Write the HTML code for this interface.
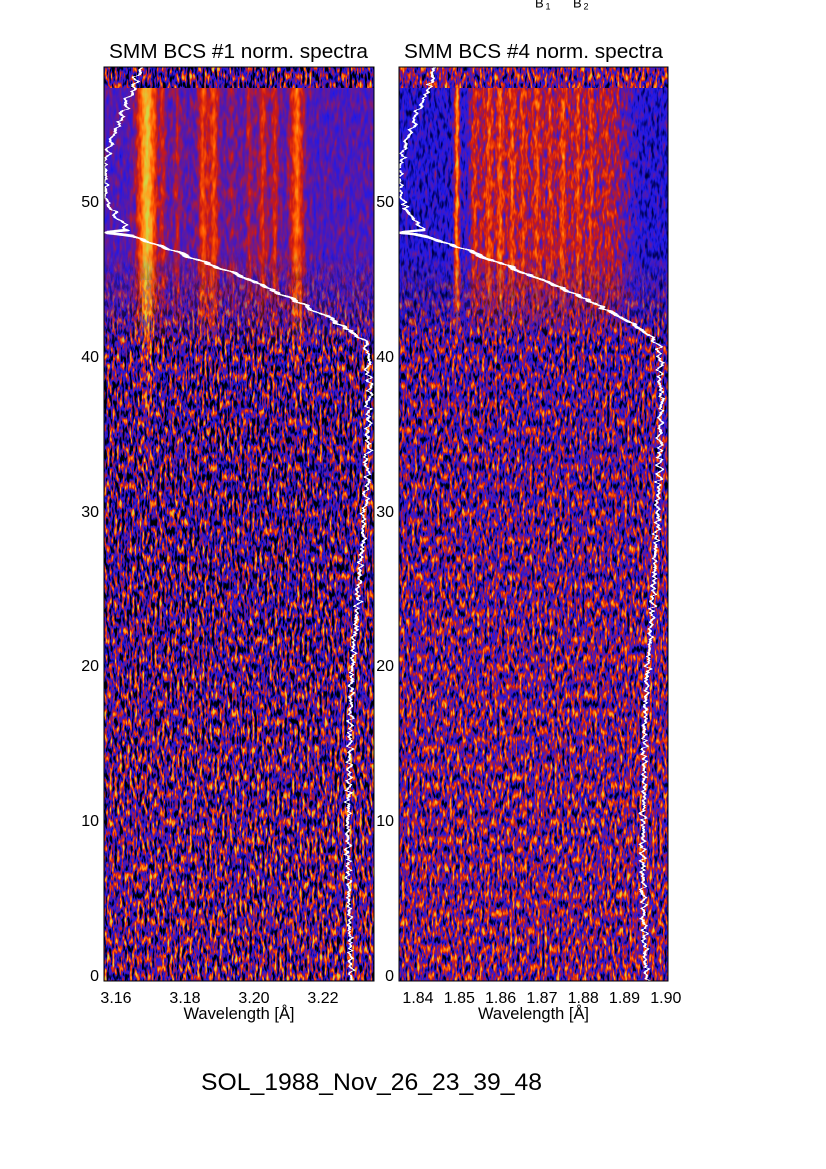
<!DOCTYPE html>
<html><head><meta charset="utf-8">
<style>
html,body{margin:0;padding:0;background:#fff;width:826px;height:1169px;overflow:hidden}
svg{display:block}
text{font-family:"Liberation Sans",Arial,sans-serif;fill:#000}
</style></head><body>
<svg width="826" height="1169" viewBox="0 0 826 1169" xmlns="http://www.w3.org/2000/svg">
<defs>
  <clipPath id="cL"><rect x="104" y="67" width="270" height="914"/></clipPath>
  <clipPath id="cR"><rect x="399" y="67" width="269" height="914"/></clipPath>

  <filter id="nL" filterUnits="userSpaceOnUse" x="104" y="67" width="270" height="914" color-interpolation-filters="sRGB">
    <feTurbulence type="fractalNoise" baseFrequency="0.4 0.11" numOctaves="2" seed="3" result="t"/>
    <feColorMatrix in="t" type="matrix" values="1 0 0 0 0  1 0 0 0 0  1 0 0 0 0  0 0 0 0 1" result="g"/>
    <feComposite in="SourceGraphic" in2="g" operator="arithmetic" k1="0" k2="1" k3="2.05" k4="-1.025" result="s"/>
    <feComponentTransfer in="s">
      <feFuncR type="table" tableValues="0 0 0.12 0.37 0.8 1 1 0.82"/>
      <feFuncG type="table" tableValues="0 0 0.1 0.1 0.1 0.33 0.63 0.84"/>
      <feFuncB type="table" tableValues="0 0.35 0.92 0.63 0.08 0 0.12 0.27"/>
    </feComponentTransfer>
  </filter>
  <filter id="nR" filterUnits="userSpaceOnUse" x="399" y="67" width="269" height="914" color-interpolation-filters="sRGB">
    <feTurbulence type="fractalNoise" baseFrequency="0.4 0.11" numOctaves="2" seed="11" result="t"/>
    <feColorMatrix in="t" type="matrix" values="1 0 0 0 0  1 0 0 0 0  1 0 0 0 0  0 0 0 0 1" result="g"/>
    <feComposite in="SourceGraphic" in2="g" operator="arithmetic" k1="0" k2="1" k3="1.65" k4="-0.825" result="s"/>
    <feComponentTransfer in="s">
      <feFuncR type="table" tableValues="0 0 0.12 0.37 0.8 1 1 0.82"/>
      <feFuncG type="table" tableValues="0 0 0.1 0.1 0.1 0.33 0.63 0.84"/>
      <feFuncB type="table" tableValues="0 0.35 0.92 0.63 0.08 0 0.12 0.27"/>
    </feComponentTransfer>
  </filter>
  <filter id="uL" filterUnits="userSpaceOnUse" x="104" y="86" width="270" height="266" color-interpolation-filters="sRGB">
    <feTurbulence type="fractalNoise" baseFrequency="0.3 0.08" numOctaves="2" seed="5" result="t"/>
    <feColorMatrix in="t" type="matrix" values="1 0 0 0 0  1 0 0 0 0  1 0 0 0 0  0 0 0 0 1" result="g"/>
    <feComposite in="SourceGraphic" in2="g" operator="arithmetic" k1="0" k2="1" k3="0.35" k4="-0.175" result="s"/>
    <feComponentTransfer in="s">
      <feFuncR type="table" tableValues="0 0 0.12 0.37 0.8 1 1 0.82"/>
      <feFuncG type="table" tableValues="0 0 0.1 0.1 0.1 0.33 0.63 0.84"/>
      <feFuncB type="table" tableValues="0 0.35 0.92 0.63 0.08 0 0.12 0.27"/>
    </feComponentTransfer>
  </filter>
  <filter id="uR" filterUnits="userSpaceOnUse" x="399" y="86" width="269" height="266" color-interpolation-filters="sRGB">
    <feTurbulence type="fractalNoise" baseFrequency="0.35 0.1" numOctaves="2" seed="9" result="t"/>
    <feColorMatrix in="t" type="matrix" values="1 0 0 0 0  1 0 0 0 0  1 0 0 0 0  0 0 0 0 1" result="g"/>
    <feComposite in="SourceGraphic" in2="g" operator="arithmetic" k1="0" k2="1" k3="0.6" k4="-0.3" result="s"/>
    <feComponentTransfer in="s">
      <feFuncR type="table" tableValues="0 0 0.12 0.37 0.8 1 1 0.82"/>
      <feFuncG type="table" tableValues="0 0 0.1 0.1 0.1 0.33 0.63 0.84"/>
      <feFuncB type="table" tableValues="0 0.35 0.92 0.63 0.08 0 0.12 0.27"/>
    </feComponentTransfer>
  </filter>
  <filter id="jag" filterUnits="userSpaceOnUse" x="0" y="0" width="826" height="1169" color-interpolation-filters="sRGB">
    <feTurbulence type="fractalNoise" baseFrequency="0.02 0.25" numOctaves="2" seed="7" result="tn"/>
    <feColorMatrix in="tn" type="matrix" values="1 0 0 0 0  0 0 0 0 0.5  0 0 0 0 0  0 0 0 0 1" result="d"/>
    <feDisplacementMap in="SourceGraphic" in2="d" scale="13" xChannelSelector="R" yChannelSelector="G"/>
  </filter>

  <linearGradient id="gNL" gradientUnits="userSpaceOnUse" x1="0" y1="67" x2="0" y2="981">
    <stop offset="0" stop-color="rgb(86,86,86)"/>
    <stop offset="0.024" stop-color="rgb(88,88,88)"/>
    <stop offset="0.255" stop-color="rgb(94,94,94)"/>
    <stop offset="0.386" stop-color="rgb(86,86,86)"/>
    <stop offset="0.583" stop-color="rgb(90,90,90)"/>
    <stop offset="0.758" stop-color="rgb(100,100,100)"/>
    <stop offset="1" stop-color="rgb(104,104,104)"/>
  </linearGradient>
  <linearGradient id="gNR" gradientUnits="userSpaceOnUse" x1="0" y1="67" x2="0" y2="981">
    <stop offset="0" stop-color="rgb(114,114,114)"/>
    <stop offset="0.255" stop-color="rgb(98,98,98)"/>
    <stop offset="0.42" stop-color="rgb(100,100,100)"/>
    <stop offset="0.64" stop-color="rgb(110,110,110)"/>
    <stop offset="1" stop-color="rgb(115,115,115)"/>
  </linearGradient>
  <linearGradient id="bp" x1="0" y1="0" x2="1" y2="0">
    <stop offset="0" stop-color="#fff" stop-opacity="0"/>
    <stop offset="0.2" stop-color="#fff" stop-opacity="0.3"/>
    <stop offset="0.5" stop-color="#fff" stop-opacity="1"/>
    <stop offset="0.8" stop-color="#fff" stop-opacity="0.3"/>
    <stop offset="1" stop-color="#fff" stop-opacity="0"/>
  </linearGradient>
  <linearGradient id="ep" x1="0" y1="0" x2="1" y2="0">
    <stop offset="0" stop-color="#fff" stop-opacity="0"/>
    <stop offset="0.08" stop-color="#fff" stop-opacity="1"/>
    <stop offset="0.85" stop-color="#fff" stop-opacity="1"/>
    <stop offset="1" stop-color="#fff" stop-opacity="0"/>
  </linearGradient>
  <linearGradient id="vf" x1="0" y1="0" x2="0" y2="1">
    <stop offset="0" stop-color="#fff" stop-opacity="1"/>
    <stop offset="0.3" stop-color="#fff" stop-opacity="0.6"/>
    <stop offset="1" stop-color="#fff" stop-opacity="0"/>
  </linearGradient>
  <linearGradient id="mfL" gradientUnits="userSpaceOnUse" x1="0" y1="88" x2="0" y2="350">
    <stop offset="0" stop-color="#fff" stop-opacity="1"/>
    <stop offset="0.62" stop-color="#fff" stop-opacity="1"/>
    <stop offset="0.82" stop-color="#fff" stop-opacity="0.55"/>
    <stop offset="1" stop-color="#fff" stop-opacity="0"/>
  </linearGradient>
  <linearGradient id="mfR" gradientUnits="userSpaceOnUse" x1="0" y1="88" x2="0" y2="340">
    <stop offset="0" stop-color="#fff" stop-opacity="1"/>
    <stop offset="0.66" stop-color="#fff" stop-opacity="1"/>
    <stop offset="0.85" stop-color="#fff" stop-opacity="0.5"/>
    <stop offset="1" stop-color="#fff" stop-opacity="0"/>
  </linearGradient>
  <mask id="mL" maskUnits="userSpaceOnUse" x="100" y="80" width="280" height="280">
    <rect x="100" y="88" width="280" height="262" fill="url(#mfL)"/>
  </mask>
  <mask id="mR" maskUnits="userSpaceOnUse" x="395" y="80" width="280" height="280">
    <rect x="395" y="88" width="280" height="252" fill="url(#mfR)"/>
  </mask>
</defs>

<!-- top clipped labels -->
<text x="535" y="7.5" font-size="13">B</text><text x="545.5" y="9.5" font-size="9">1</text>
<text x="573" y="7.5" font-size="13">B</text><text x="583.5" y="9.5" font-size="9">2</text>

<!-- titles -->
<text x="109" y="58" font-size="20.5" textLength="259" lengthAdjust="spacingAndGlyphs">SMM BCS #1 norm. spectra</text>
<text x="404" y="58" font-size="20.5" textLength="259" lengthAdjust="spacingAndGlyphs">SMM BCS #4 norm. spectra</text>

<!-- LEFT PANEL -->
<g clip-path="url(#cL)">
  <g filter="url(#nL)">
    <rect x="104" y="67" width="270" height="914" fill="url(#gNL)"/>
    <rect x="142" y="280" width="10" height="260" fill="url(#vf)" opacity="0.45"/>
    <rect x="292" y="280" width="10" height="180" fill="url(#vf)" opacity="0.3"/>
    <rect x="198" y="290" width="22" height="90" fill="url(#vf)" opacity="0.2"/>
  </g>
  <g mask="url(#mL)">
    <g filter="url(#uL)">
      <rect x="104" y="86" width="270" height="266" fill="rgb(100,100,100)"/>
      <rect x="150" y="86" width="165" height="266" fill="url(#ep)" fill-opacity="0.05"/>
      <rect x="128" y="86" width="38" height="266" fill="url(#bp)" fill-opacity="0.45"/>
      <rect x="135" y="86" width="24" height="266" fill="url(#bp)" fill-opacity="0.9"/>
      <rect x="158" y="86" width="10" height="266" fill="url(#bp)" fill-opacity="0.22"/>
      <rect x="171" y="86" width="12" height="266" fill="url(#bp)" fill-opacity="0.2"/>
      <rect x="194" y="86" width="30" height="266" fill="url(#bp)" fill-opacity="0.15"/>
      <rect x="196" y="86" width="14" height="266" fill="url(#bp)" fill-opacity="0.42"/>
      <rect x="207" y="86" width="14" height="266" fill="url(#bp)" fill-opacity="0.42"/>
      <rect x="226" y="86" width="12" height="266" fill="url(#bp)" fill-opacity="0.13"/>
      <rect x="244" y="86" width="38" height="266" fill="url(#bp)" fill-opacity="0.12"/>
      <rect x="244" y="86" width="10" height="266" fill="url(#bp)" fill-opacity="0.22"/>
      <rect x="258" y="86" width="10" height="266" fill="url(#bp)" fill-opacity="0.27"/>
      <rect x="270" y="86" width="10" height="266" fill="url(#bp)" fill-opacity="0.32"/>
      <rect x="286" y="86" width="22" height="266" fill="url(#bp)" fill-opacity="0.6"/>
    </g>
  </g>
  <g filter="url(#jag)">
    <polyline fill="none" stroke="#fff" stroke-width="2.5" stroke-linejoin="round" points="141,67 136,80 130,95 124,110 118,125 112,140 108,152 105.5,165 105,180 105.5,192 107,200 110,207 114,213 118,218 122,223 125,227 127,230 117,231 107,232 106,233 118,234 132,236 160,246 190,257 220,268 250,280 280,293 305,305 325,316 342,326 355,334 362,340 366,346 368,355 369,380 369,400 368,430 367,460 366,490 364,520 362,550 359,580 357,610 354,640 352,670 351,700 350,740 349,780 348,820 348,860 349,900 350,940 351,970 352,985"/>
  </g>
</g>
<rect x="104" y="67" width="270" height="914" fill="none" stroke="#000" stroke-width="1"/>

<!-- RIGHT PANEL -->
<g clip-path="url(#cR)">
  <g filter="url(#nR)">
    <rect x="399" y="67" width="269" height="914" fill="url(#gNR)"/>
    <rect x="453" y="250" width="8" height="150" fill="url(#vf)" opacity="0.35"/>
  </g>
  <g mask="url(#mR)">
    <g filter="url(#uR)">
      <rect x="399" y="86" width="269" height="266" fill="rgb(72,72,72)"/>
      <rect x="462" y="86" width="180" height="266" fill="url(#ep)" fill-opacity="0.33"/>
      <rect x="452" y="86" width="10" height="266" fill="url(#bp)" fill-opacity="0.8"/>
      <rect x="469" y="86" width="10" height="266" fill="url(#bp)" fill-opacity="0.25"/>
      <rect x="484" y="86" width="10" height="266" fill="url(#bp)" fill-opacity="0.4"/>
      <rect x="495" y="86" width="10" height="266" fill="url(#bp)" fill-opacity="0.45"/>
      <rect x="507" y="86" width="10" height="266" fill="url(#bp)" fill-opacity="0.4"/>
      <rect x="519" y="86" width="8" height="266" fill="url(#bp)" fill-opacity="0.3"/>
      <rect x="532" y="86" width="10" height="266" fill="url(#bp)" fill-opacity="0.35"/>
      <rect x="546" y="86" width="8" height="266" fill="url(#bp)" fill-opacity="0.3"/>
      <rect x="558" y="86" width="10" height="266" fill="url(#bp)" fill-opacity="0.38"/>
      <rect x="573" y="86" width="10" height="266" fill="url(#bp)" fill-opacity="0.32"/>
      <rect x="587" y="86" width="8" height="266" fill="url(#bp)" fill-opacity="0.3"/>
      <rect x="603" y="86" width="8" height="266" fill="url(#bp)" fill-opacity="0.15"/>
    </g>
  </g>
  <g filter="url(#jag)">
    <polyline fill="none" stroke="#fff" stroke-width="2.5" stroke-linejoin="round" points="437,67 432,80 426,95 419,110 413,125 407,140 403,152 400.5,165 400,180 400.5,192 402,200 405,207 409,213 413,218 417,223 420,227 422,230 412,231 402,232 401,233 413,234 430,237 460,248 490,259 520,271 550,283 580,296 605,309 625,320 640,329 650,336 655,341 658,347 660,360 661,400 660,440 659,480 657,520 655,560 653,600 650,640 647,680 645,720 644,760 644,800 643,840 643,880 644,920 645,950 647,985"/>
  </g>
</g>
<rect x="399" y="67" width="269" height="914" fill="none" stroke="#000" stroke-width="1"/>

<!-- Y tick labels -->
<g font-size="16" text-anchor="end">
  <text x="99" y="981">0</text>
  <text x="99" y="826">10</text>
  <text x="99" y="671">20</text>
  <text x="99" y="517">30</text>
  <text x="99" y="362">40</text>
  <text x="99" y="207">50</text>
  <text x="394" y="981">0</text>
  <text x="394" y="826">10</text>
  <text x="394" y="671">20</text>
  <text x="394" y="517">30</text>
  <text x="394" y="362">40</text>
  <text x="394" y="207">50</text>
</g>

<!-- X tick labels -->
<g font-size="16" text-anchor="middle">
  <text x="116" y="1003">3.16</text>
  <text x="185" y="1003">3.18</text>
  <text x="254" y="1003">3.20</text>
  <text x="323" y="1003">3.22</text>
  <text x="418" y="1003">1.84</text>
  <text x="459.3" y="1003">1.85</text>
  <text x="500.6" y="1003">1.86</text>
  <text x="541.9" y="1003">1.87</text>
  <text x="583.2" y="1003">1.88</text>
  <text x="624.5" y="1003">1.89</text>
  <text x="665.8" y="1003">1.90</text>
</g>

<text x="183.5" y="1019" font-size="17" textLength="111" lengthAdjust="spacingAndGlyphs">Wavelength [Å]</text>
<text x="478" y="1019" font-size="17" textLength="111" lengthAdjust="spacingAndGlyphs">Wavelength [Å]</text>

<text x="201" y="1090" font-size="24" textLength="341" lengthAdjust="spacingAndGlyphs">SOL_1988_Nov_26_23_39_48</text>
</svg>
</body></html>
